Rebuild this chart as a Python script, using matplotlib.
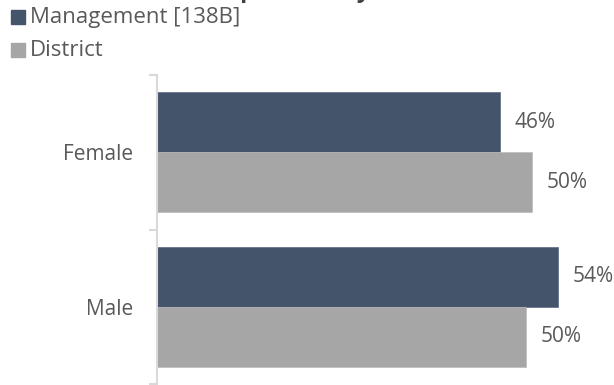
import matplotlib
matplotlib.use("Agg")
import matplotlib.pyplot as plt
from matplotlib.patches import Rectangle

# gender split, percent of headcount
categories = ["Female", "Male"]
management = [46.1, 53.9]
district = [50.4, 49.6]
series_names = ["Management [138B]", "District"]
value_labels_mgmt = ["46%", "54%"]
value_labels_dist = ["50%", "50%"]

dark = "#44546A"
grey = "#A6A6A6"
text_col = "#595959"
axis_col = "#D9D9D9"

plt.rcParams["font.family"] = ["Open Sans", "DejaVu Sans"]

fig = plt.figure(figsize=(6.14, 3.85), dpi=100)
ax = fig.add_axes([157 / 614, 1 / 385, 446 / 614, 309 / 385])

pos = list(range(len(categories)))
h = 0.387
off = h / 2
ax.barh([p - off for p in pos], management, height=h, color=dark, edgecolor="#5a6a80", linewidth=0.5)
ax.barh([p + off for p in pos], district, height=h, color=grey, edgecolor="#bcbcbc", linewidth=0.5)

for p, v, s in zip(pos, management, value_labels_mgmt):
    ax.text(v + 2.0, p - off, s, va="center", ha="left", fontsize=15, color=text_col)
for p, v, s in zip(pos, district, value_labels_dist):
    ax.text(v + 2.0, p + off, s, va="center", ha="left", fontsize=15, color=text_col)

ax.set_xlim(0, 60)
ax.set_ylim(len(categories) - 0.5, -0.5)
ax.set_xticks([])
ax.set_yticks([-0.5, 0.5, 1.5])
ax.set_yticklabels([])
ax.set_yticks(pos, minor=True)
ax.set_yticklabels(categories, minor=True)
ax.tick_params(axis="y", which="major", length=6, width=1.5, color=axis_col)
ax.tick_params(axis="y", which="minor", length=0, pad=17, labelsize=15, labelcolor=text_col)
for side in ["top", "right", "bottom"]:
    ax.spines[side].set_visible(False)
ax.spines["left"].set_color(axis_col)
ax.spines["left"].set_linewidth(1.5)

# title sits above the top edge; only its descenders reach the canvas
fig.text(95 / 614, 1 + 3 / 385, "Gender Composition by Role", fontsize=17,
         fontweight="bold", color="#404040", ha="left", va="baseline")

# legend drawn as swatch + text rows
for i, (name, col) in enumerate(zip(series_names, [dark, grey])):
    yc = 1 - (17 + 33 * i) / 385
    fig.patches.append(Rectangle((11 / 614, yc - 7 / 385), 14 / 614, 14 / 385,
                                 transform=fig.transFigure, color=col))
    fig.text(30 / 614, yc, name, fontsize=16, color=text_col, va="center", ha="left")

fig.savefig("out.png", dpi=100)
